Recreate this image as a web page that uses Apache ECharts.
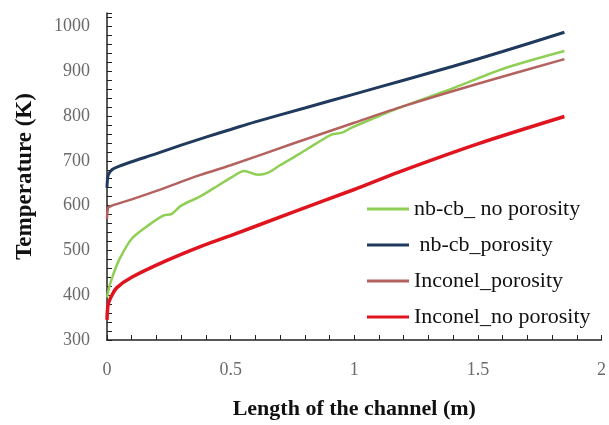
<!DOCTYPE html>
<html><head><meta charset="utf-8">
<script src="https://cdn.jsdelivr.net/npm/echarts@6/dist/echarts.min.js"></script>
<style>html,body{margin:0;padding:0;background:#fff}#c{width:609px;height:425px}</style>
</head><body><div id="c"></div>
<script>
const seriesNames = ['nb-cb_ no porosity', 'nb-cb_porosity', 'Inconel_porosity', 'Inconel_no porosity'];
const xTickLabels = ['0', '0.5', '1', '1.5', '2'];
const yTickLabels = ['300', '400', '500', '600', '700', '800', '900', '1000'];

const nbcbNoPorosity = [[0,395],[0.01,420],[0.025,446],[0.05,480],[0.1,526],[0.17,557],[0.23,578],[0.26,581],[0.3,600],[0.375,620],[0.45,645],[0.5,662],[0.556,677],[0.61,669],[0.65,673],[0.7,690],[0.78,716],[0.85,740],[0.91,759],[0.95,763],[0.99,774],[1.1,800],[1.2,822],[1.4,862],[1.6,905],[1.85,945]];
const nbcbPorosity = [[0,640],[0.005,668],[0.02,680],[0.05,688],[0.1,698],[0.2,716],[0.3,735],[0.4,753],[0.5,770],[0.6,787],[0.8,818],[1.0,849],[1.2,880],[1.4,911],[1.6,944],[1.85,987]];
const inconelPorosity = [[0,570],[0.005,595],[0.02,600],[0.1,614],[0.2,633],[0.375,668],[0.5,690],[0.75,738],[1.0,785],[1.2,822],[1.5,872],[1.85,927]];
const inconelNoPorosity = [[0,345],[0.005,380],[0.02,400],[0.04,417],[0.1,440],[0.24,477],[0.375,508],[0.5,533],[0.75,585],[1.0,636],[1.18,675],[1.5,738],[1.85,799]];

const colors = ['#8fcf55', '#1f3a5c', '#b3625f', '#e0141e'];
const widths = [2.5, 3, 2.5, 3.5];
const datas = [nbcbNoPorosity, nbcbPorosity, inconelPorosity, inconelNoPorosity];
const serif = '"Liberation Serif", "Times New Roman", serif';

const chart = echarts.init(document.getElementById('c'));
chart.setOption({
  animation: false,
  grid: {left: 107, right: 6, top: 13, bottom: 82},
  legend: {
    orient: 'vertical', left: 362, top: 193,
    itemWidth: 42, itemHeight: 3, itemGap: 14,
    icon: 'rect',
    textStyle: {fontFamily: serif, fontSize: 22, color: '#111'},
    formatter: n => n === 'nb-cb_porosity' ? ' ' + n : n,
    data: seriesNames
  },
  xAxis: {
    type: 'value', min: 0, max: 2, interval: 0.5,
    name: 'Length of the channel (m)', nameLocation: 'middle', nameGap: 58,
    nameTextStyle: {fontFamily: serif, fontSize: 22, fontWeight: 'bold', color: '#111'},
    axisLine: {lineStyle: {color: '#222', width: 1.5}},
    axisTick: {inside: true, length: 5, lineStyle: {color: '#222'}},
    minorTick: {show: true, splitNumber: 5, length: 5, lineStyle: {color: '#222'}},
    splitLine: {show: false},
    axisLabel: {margin: 21, fontFamily: serif, fontSize: 18, color: '#6a6a6a',
      formatter: v => xTickLabels[Math.round(v / 0.5)]}
  },
  yAxis: {
    type: 'value', min: 300, max: 1030, interval: 100,
    name: 'Temperature (K)', nameLocation: 'middle', nameGap: 70,
    nameTextStyle: {fontFamily: serif, fontSize: 23, fontWeight: 'bold', color: '#111'},
    axisLine: {show: true, lineStyle: {color: '#222', width: 1.5}},
    axisTick: {show: true, inside: true, length: 5, lineStyle: {color: '#222'}},
    minorTick: {show: true, splitNumber: 5, length: 5, lineStyle: {color: '#222'}},
    splitLine: {show: false},
    axisLabel: {margin: 17, fontFamily: serif, fontSize: 18, color: '#6a6a6a', showMaxLabel: false,
      formatter: v => { const i = Math.round((v - 300) / 100); return (v - 300) % 100 === 0 && yTickLabels[i] ? yTickLabels[i] : ''; }}
  },
  series: seriesNames.map((n, i) => ({
    name: n, type: 'line', data: datas[i], showSymbol: false, smooth: 0.3,
    lineStyle: {color: colors[i], width: widths[i]}, itemStyle: {color: colors[i]}
  }))
});
</script></body></html>
